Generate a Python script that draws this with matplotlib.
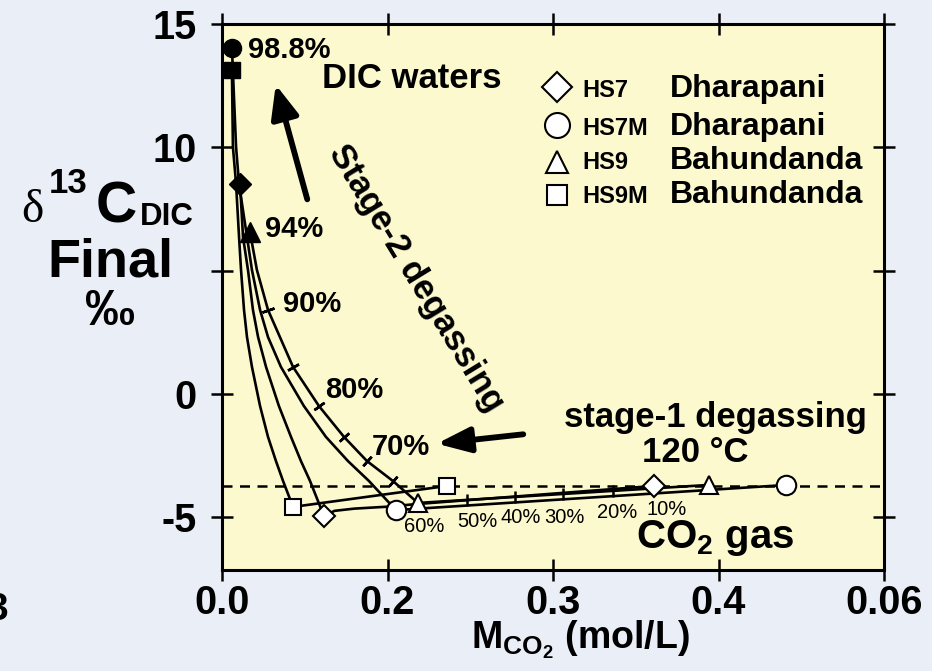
import matplotlib
matplotlib.use('Agg')
import matplotlib.pyplot as plt
import numpy as np
from matplotlib.patches import FancyArrowPatch
from matplotlib.lines import Line2D

plt.rcParams['font.family'] = ['Liberation Sans', 'DejaVu Sans']
plt.rcParams['font.weight'] = 'bold'
plt.rcParams['mathtext.fontset'] = 'custom'
plt.rcParams['mathtext.rm'] = 'Liberation Sans:bold'
plt.rcParams['mathtext.it'] = 'Liberation Sans:bold'
plt.rcParams['mathtext.bf'] = 'Liberation Sans:bold'

# ---------------- data ----------------
# stage-2 degassing curves (M_CO2 mol/L, d13C permil)
hs9m_x = [0.0060, 0.0066, 0.0085, 0.0103, 0.0115, 0.0133, 0.0151, 0.0181, 0.0230, 0.0278, 0.0326, 0.0369, 0.0429]
hs9m_y = [13.13, 10.01, 8.51, 6.36, 5.02, 3.40, 2.30, 1.09, -0.50, -1.75, -2.73, -3.54, -4.59]
hs7_x = [0.0109, 0.0127, 0.0157, 0.0187, 0.0218, 0.0266, 0.0344, 0.0417, 0.0477, 0.0532, 0.0616]
hs7_y = [8.51, 6.36, 5.02, 3.40, 2.30, 1.09, -0.50, -1.75, -2.73, -3.54, -4.96]
hs7m_x = [0.0060, 0.0085, 0.0103, 0.0151, 0.0181, 0.0230, 0.0278, 0.0356, 0.0495, 0.0628, 0.0761, 0.0888, 0.1051]
hs7m_y = [14.03, 10.01, 8.51, 6.36, 5.02, 3.40, 2.30, 1.09, -0.50, -1.75, -2.73, -3.54, -4.72]
hs9_x = [0.0169, 0.0211, 0.0278, 0.0350, 0.0429, 0.0586, 0.0737, 0.0876, 0.1033, 0.1184]
hs9_y = [6.56, 5.02, 3.40, 2.30, 1.09, -0.50, -1.75, -2.73, -3.54, -4.43]

# degassing-fraction ticks on the HS9 curve
hs9_tick_x = [0.0278, 0.0429, 0.0586, 0.0737, 0.0876, 0.1033]
hs9_tick_y = [3.40, 1.09, -0.50, -1.75, -2.73, -3.54]

# stage-1 (CO2 gas) lines
hs9m_gas_x = [0.0429, 0.136]
hs9m_gas_y = [-4.59, -3.74]
hs7_gas_x = [0.0616, 0.0680, 0.0800, 0.1003, 0.1184, 0.261]
hs7_gas_y = [-4.96, -4.75, -4.66, -4.58, -4.47, -3.74]
hs7m_gas_x = [0.1051, 0.341]
hs7m_gas_y = [-4.72, -3.70]
hs9_gas_x = [0.1184, 0.294]
hs9_gas_y = [-4.43, -3.70]

bundle_tick_x = [0.148, 0.177, 0.206, 0.236]
bundle_tick_y = [-4.31, -4.19, -4.07, -3.94]

# initial DIC (filled) and end points (open)
init_x = {'HS7': 0.0109, 'HS7M': 0.0060, 'HS9': 0.0169, 'HS9M': 0.0060}
init_y = {'HS7': 8.51, 'HS7M': 14.03, 'HS9': 6.56, 'HS9M': 13.13}
open_x = {'HS7': [0.0616, 0.261], 'HS7M': [0.1051, 0.341], 'HS9': [0.1184, 0.294], 'HS9M': [0.0429, 0.136]}
open_y = {'HS7': [-4.96, -3.74], 'HS7M': [-4.72, -3.70], 'HS9': [-4.43, -3.70], 'HS9M': [-4.59, -3.74]}

gas_level = -3.74

x_ticks = [0.0, 0.1, 0.2, 0.3, 0.4]
x_tick_labels = ['0.0', '0.2', '0.3', '0.4', '0.06']
y_ticks = [-5, 0, 5, 10, 15]
y_tick_labels = ['-5', '0', '', '10', '15']

samples = ['HS7', 'HS7M', 'HS9', 'HS9M']
sites = ['Dharapani', 'Dharapani', 'Bahundanda', 'Bahundanda']

# ---------------- figure ----------------
W, H = 932, 671
def P(x, y):
    return (x / W, 1 - y / H)

fig = plt.figure(figsize=(9.32, 6.71), dpi=100, facecolor='#eaeef7')
ax = fig.add_axes([222 / W, 1 - 570 / H, (884 - 222) / W, (570 - 24) / H], facecolor='#fdf9ce')
ax.set_xlim(0, 0.4)
ax.set_ylim(-7.15, 15)

for s in ax.spines.values():
    s.set_linewidth(2.2)
    s.set_zorder(10)

ax.set_xticks(x_ticks)
ax.set_xticklabels(x_tick_labels)
ax.set_yticks(y_ticks)
ax.set_yticklabels(y_tick_labels)
ax.tick_params(direction='inout', length=16, width=1.8, top=True, right=True,
               labelsize=28.5, colors='black')
ax.tick_params(axis='y', pad=10)
ax.tick_params(axis='x', pad=2)
for lab in ax.get_xticklabels() + ax.get_yticklabels():
    lab.set_fontweight('bold')

ax.axhline(gas_level, color='black', lw=1.8, ls=(0, (4, 3)), zorder=2)

lw = 1.9
for xs, ys in [(hs9m_x, hs9m_y), (hs7_x, hs7_y), (hs7m_x, hs7m_y), (hs9_x, hs9_y),
               (hs9m_gas_x, hs9m_gas_y), (hs7_gas_x, hs7_gas_y),
               (hs7m_gas_x, hs7m_gas_y), (hs9_gas_x, hs9_gas_y)]:
    ax.plot(xs, ys, color='black', lw=lw, solid_joinstyle='round', solid_capstyle='round', zorder=3)

# tick marks along HS9 curve, perpendicular to it
disp = ax.transData.transform(np.column_stack([hs9_x, hs9_y]))
for tx, ty in zip(hs9_tick_x, hs9_tick_y):
    i = int(np.argmin(np.hypot(np.array(hs9_x) - tx, np.array(hs9_y) - ty)))
    i0, i1 = max(i - 1, 0), min(i + 1, len(hs9_x) - 1)
    d = disp[i1] - disp[i0]
    ang = np.degrees(np.arctan2(d[1], d[0]))
    ax.plot([tx], [ty], ls='none', marker=(2, 2, ang), ms=9, mew=1.8, color='black', zorder=4)

ax.plot(bundle_tick_x, bundle_tick_y, ls='none', marker='|', ms=9, mew=1.8, color='black', zorder=4)

mk = {'HS7': ('D', 11, 11), 'HS7M': ('o', 14, 13), 'HS9': ('^', 13, 14), 'HS9M': ('s', 12, 12)}
for s in samples:
    m, ms_open, ms_fill = mk[s]
    ax.plot(open_x[s], open_y[s], ls='none', marker=m, ms=ms_open, mfc='white', mec='black',
            mew=1.5, zorder=6)
    ax.plot([init_x[s]], [init_y[s]], ls='none', marker=m, ms=ms_fill, color='black', zorder=6)

# ---------------- texts ----------------
def T(x, y, s, **kw):
    fig.text(*P(x, y), s, **kw)

T(248, 58, '98.8%', fontsize=21, va='baseline')
T(322, 88, 'DIC waters', fontsize=25, va='baseline')
T(265, 237, '94%', fontsize=21, va='baseline')
T(283, 312, '90%', fontsize=21, va='baseline')
T(325, 398, '80%', fontsize=21, va='baseline')
T(372, 455, '70%', fontsize=21, va='baseline')
T(416, 278, 'Stage-2 degassing', fontsize=25, rotation=-58.5, rotation_mode='anchor',
  ha='center', va='center')
T(715, 427, 'stage-1 degassing', fontsize=25, ha='center', va='baseline')
T(695, 462, '120 °C', fontsize=25, ha='center', va='baseline')
T(715, 548, r'CO$_\mathbf{2}$ gas', fontsize=29, ha='center', va='baseline')

pct_labels = ['60%', '50%', '40%', '30%', '20%', '10%']
pct_pos = [(424, 532), (477, 527), (521, 523), (564, 523), (617, 518), (667, 515)]
for lab, (px, py) in zip(pct_labels, pct_pos):
    T(px, py, lab, fontsize=14.5, fontweight='normal', ha='center', va='baseline')

# y-axis label pieces
T(21, 222, 'δ', fontsize=34, fontweight='normal', family=['Liberation Serif', 'DejaVu Serif'],
  va='baseline')
T(49, 193, '13', fontsize=25, va='baseline')
T(96, 223, 'C', fontsize=41, va='baseline')
T(140, 225, 'DIC', fontsize=22.5, va='baseline')
T(110, 277, 'Final', fontsize=39, ha='center', va='baseline')
T(110, 312, '‰', fontsize=36, ha='center', va='center')

# x-axis label
T(580, 640, r'M$_\mathbf{CO_2}$ (mol/L)', fontsize=27, ha='center', va='center')

# stray clipped character at left edge
T(-14, 620, '3', fontsize=28, va='baseline')

# legend (drawn by hand)
leg_marker = [('D', 15), ('o', 18), ('^', 16), ('s', 14.5)]
leg_y = [87, 125, 162, 195]
leg_base = [97, 135, 169, 203]
for (m, ms), yy, yb, s, site in zip(leg_marker, leg_y, leg_base, samples, sites):
    fig.add_artist(Line2D([557 / W], [1 - yy / H], transform=fig.transFigure, ls='none',
                          marker=m, ms=ms, mfc='white', mec='black', mew=1.5))
    T(582, yb, s, fontsize=17, va='baseline')
    T(670, yb, site, fontsize=23, va='baseline')

# arrows
a1 = FancyArrowPatch(P(308, 202), P(275, 82), transform=fig.transFigure,
                     arrowstyle='-|>,head_length=1.0,head_width=0.42', mutation_scale=20,
                     lw=4.2, color='black')
fig.add_artist(a1)
a2 = FancyArrowPatch(P(526, 434), P(434, 444), transform=fig.transFigure,
                     arrowstyle='-|>,head_length=1.0,head_width=0.38', mutation_scale=20,
                     lw=4.2, color='black')
fig.add_artist(a2)

fig.savefig('out.png', dpi=100, facecolor=fig.get_facecolor())
